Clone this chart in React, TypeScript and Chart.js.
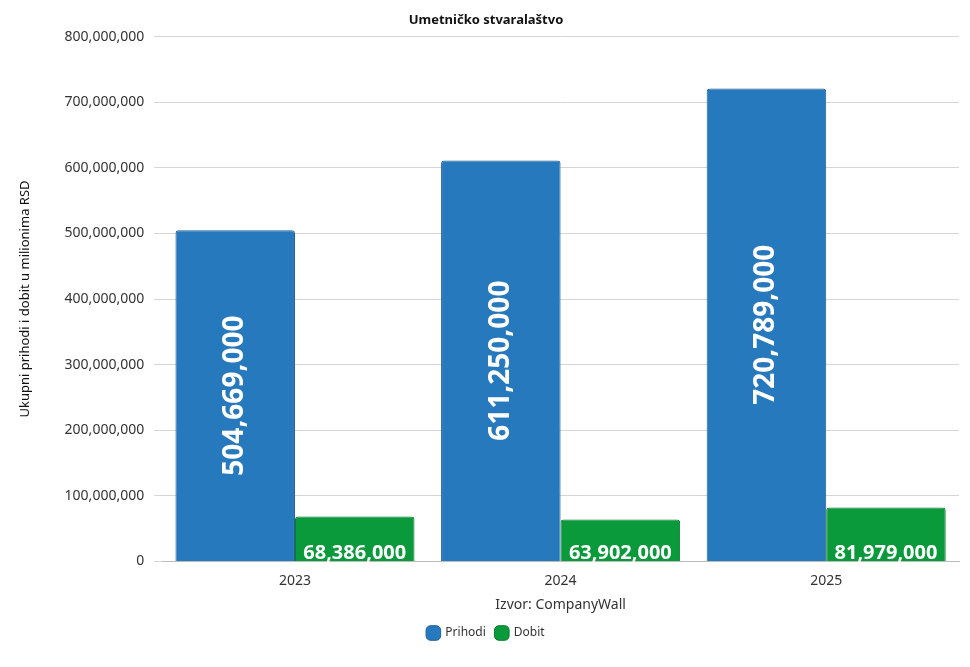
import React, { useEffect, useRef } from "react";
import { Chart, registerables } from "chart.js";
Chart.register(...registerables);

const categories = ["2023", "2024", "2025"];
const prihodi = [504669000, 611250000, 720789000];
const dobit = [68386000, 63902000, 81979000];
const FONT = "'Noto Sans', sans-serif";

const labelPlugin = {
  id: "barLabels",
  afterDatasetsDraw(chart: any) {
    const ctx = chart.ctx;
    const area = chart.chartArea;
    ctx.save();
    ctx.beginPath();
    ctx.rect(area.left, area.top, area.right - area.left, area.bottom - area.top + 4);
    ctx.clip();
    ctx.fillStyle = "#ffffff";
    ctx.textAlign = "center";
    ctx.textBaseline = "middle";
    chart.data.datasets.forEach((ds: any, di: number) => {
      const meta = chart.getDatasetMeta(di);
      meta.data.forEach((bar: any, i: number) => {
        const txt = Number(ds.data[i]).toLocaleString("en-US");
        if (di === 0) {
          ctx.save();
          ctx.translate(bar.x, (bar.y + bar.base) / 2);
          ctx.rotate(-Math.PI / 2);
          ctx.font = `bold 28px ${FONT}`;
          ctx.fillText(txt, 0, 0);
          ctx.restore();
        } else {
          ctx.font = `bold 20px ${FONT}`;
          ctx.fillText(txt, bar.x, bar.base - 8);
        }
      });
    });
    ctx.restore();
  },
};

export default function App() {
  const ref = useRef<HTMLCanvasElement>(null);
  useEffect(() => {
    const chart = new Chart(ref.current!, {
      type: "bar",
      data: {
        labels: categories,
        datasets: [
          { label: "Prihodi", data: prihodi, backgroundColor: "#2779bd", borderColor: "#1f5f95", borderWidth: 1, borderRadius: 3 },
          { label: "Dobit", data: dobit, backgroundColor: "#0b9a3b", borderColor: "#077a2d", borderWidth: 1, borderRadius: 3 },
        ],
      },
      options: {
        animation: false,
        responsive: false,
        layout: { padding: { left: 5, right: 3, top: 0, bottom: 10 } },
        datasets: { bar: { categoryPercentage: 0.9, barPercentage: 1 } },
        plugins: {
          title: { display: true, text: "Umetničko stvaralaštvo", color: "#111", font: { family: FONT, size: 13, weight: "bold" }, padding: { top: 4, bottom: 9 } },
          legend: {
            position: "bottom",
            labels: { usePointStyle: true, pointStyle: "rectRounded", boxWidth: 12, boxHeight: 12, color: "#333", font: { family: FONT, size: 12 } },
          },
          tooltip: { enabled: false },
        },
        scales: {
          x: {
            grid: { display: false },
            border: { color: "#bbb" },
            ticks: { color: "#333", font: { family: FONT, size: 14 } },
            title: { display: true, text: "Izvor: CompanyWall", color: "#333", font: { family: FONT, size: 14 } },
          },
          y: {
            min: 0,
            max: 800000000,
            ticks: { stepSize: 100000000, padding: 10, color: "#333", font: { family: FONT, size: 14 }, callback: (v: any) => Number(v).toLocaleString("en-US") },
            grid: { color: "#d5d5d5" },
            border: { display: false },
            title: { display: true, text: "Ukupni prihodi i dobit u milionima RSD", color: "#111", font: { family: FONT, size: 13 }, padding: { top: 4, bottom: 22 } },
          },
        },
      },
      plugins: [labelPlugin],
    } as any);
    return () => chart.destroy();
  }, []);
  return <canvas ref={ref} width={954} height={651} />;
}
